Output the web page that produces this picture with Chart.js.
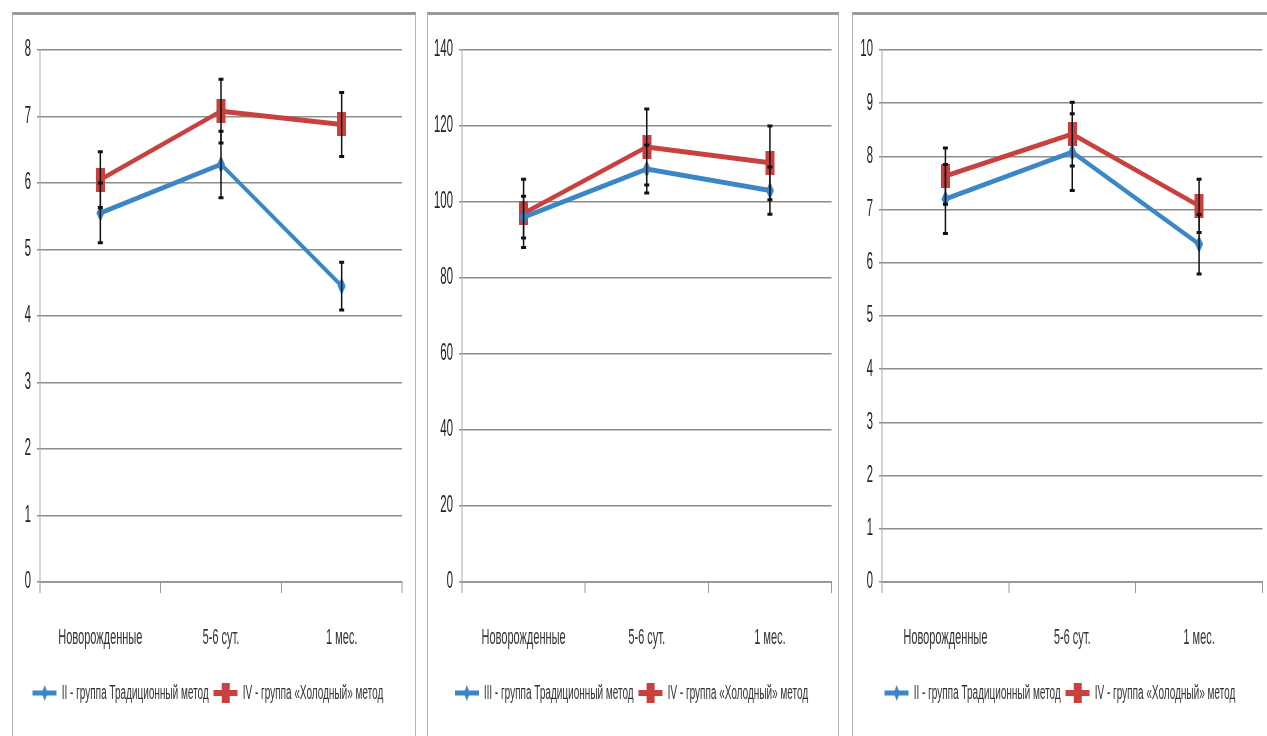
<!DOCTYPE html>
<html>
<head>
<meta charset="utf-8">
<script src="https://cdn.jsdelivr.net/npm/chart.js@4.4.1/dist/chart.umd.min.js"></script>
<style>
  body { margin: 0; background: #fff; width: 1267px; height: 736px; overflow: hidden; position: relative; }
  .frame { position: absolute; top: 12px; height: 740px; box-sizing: border-box;
           border-top: 3px solid #9a9a9a; border-left: 1px solid #b4b4b4; border-right: 1px solid #b4b4b4; }
  canvas { position: absolute; top: 15px; }
</style>
</head>
<body>
<div class="frame" style="left:12px;width:404px"></div>
<div class="frame" style="left:427px;width:412px"></div>
<div class="frame" style="left:852px;width:430px"></div>

<canvas id="chart1" width="798" height="698" style="left:14px;width:399px;height:698px"></canvas>
<canvas id="chart2" width="812" height="698" style="left:430px;width:406px;height:698px"></canvas>
<canvas id="chart3" width="824" height="698" style="left:855px;width:412px;height:698px"></canvas>

<script>
// ---- data ----
const categories = ['Новорожденные', '5-6 сут.', '1 мес.'];

// panel 1
const p1Names = ['II - группа Традиционный метод', 'IV - группа «Холодный» метод'];
const p1Trad = [5.55, 6.28, 4.45];
const p1TradErr = [0.45, 0.5, 0.36];
const p1Cold = [6.05, 7.08, 6.88];
const p1ColdErr = [0.42, 0.48, 0.48];
const p1Ticks = [0, 8, 1];

// panel 2
const p2Names = ['III - группа Традиционный метод', 'IV - группа «Холодный» метод'];
const p2Trad = [96, 108.7, 103];
const p2TradErr = [5.5, 6.3, 6.2];
const p2Cold = [97, 114.5, 110.3];
const p2ColdErr = [9, 10, 9.7];
const p2Ticks = [0, 140, 20];

// panel 3
const p3Names = ['II - группа Традиционный метод', 'IV - группа «Холодный» метод'];
const p3Trad = [7.2, 8.08, 6.35];
const p3TradErr = [0.65, 0.72, 0.56];
const p3Cold = [7.63, 8.42, 7.07];
const p3ColdErr = [0.53, 0.6, 0.5];
const p3Ticks = [0, 10, 1];

// ---- look ----
// canvases are drawn twice as wide and shown squeezed, like the original picture
const BLUE = '#3b86c6';
const RED = '#c9413e';
const FONT = "'Liberation Sans', Arial, sans-serif";

function makeImg(w, h, draw) {
    const c = document.createElement('canvas');
    c.width = w; c.height = h;
    draw(c.getContext('2d'), w, h);
    return c;
}
function diamond(g, cx, cy, w, h) {
    g.beginPath();
    g.moveTo(cx, cy - h / 2); g.lineTo(cx + w / 2, cy);
    g.lineTo(cx, cy + h / 2); g.lineTo(cx - w / 2, cy);
    g.closePath(); g.fill();
}

const blueMark = makeImg(16, 18, (g, w, h) => { g.fillStyle = BLUE; diamond(g, w / 2, h / 2, w, h); });
const redMark = makeImg(18, 24, (g, w, h) => { g.fillStyle = RED; g.fillRect(0, 0, w, h); });
const blueLegend = makeImg(48, 22, (g, w, h) => {
    g.fillStyle = BLUE; g.fillRect(0, h / 2 - 2.5, w, 5); diamond(g, w / 2, h / 2, 12, 16);
});
const redLegend = makeImg(48, 22, (g, w, h) => {
    g.fillStyle = RED; g.fillRect(0, h / 2 - 3, w, 6); g.fillRect(w / 2 - 8, h / 2 - 10, 16, 20);
});

// error bars from the errors array of every dataset
const errorBars = {
    id: 'errorBars',
    afterDatasetsDraw(chart) {
        const ctx = chart.ctx;
        const y = chart.scales.y;
        chart.data.datasets.forEach((ds, i) => {
            chart.getDatasetMeta(i).data.forEach((pt, j) => {
                const top = y.getPixelForValue(ds.data[j] + ds.errors[j]);
                const bot = y.getPixelForValue(ds.data[j] - ds.errors[j]);
                ctx.save();
                ctx.strokeStyle = '#111';
                ctx.lineWidth = 3;
                ctx.beginPath();
                ctx.moveTo(pt.x, top); ctx.lineTo(pt.x, bot);
                ctx.moveTo(pt.x - 5, top); ctx.lineTo(pt.x + 5, top);
                ctx.moveTo(pt.x - 5, bot); ctx.lineTo(pt.x + 5, bot);
                ctx.stroke();
                ctx.restore();
            });
        });
    }
};

function makeChart(id, names, trad, tradErr, cold, coldErr, ticks, axisWidth, padRight) {
    new Chart(document.getElementById(id), {
        type: 'line',
        data: {
            labels: categories,
            datasets: [{
                label: names[0],
                data: trad,
                errors: tradErr,
                borderColor: BLUE,
                backgroundColor: BLUE,
                borderWidth: 5,
                pointStyle: blueMark,
                tension: 0
            }, {
                label: names[1],
                data: cold,
                errors: coldErr,
                borderColor: RED,
                backgroundColor: RED,
                borderWidth: 5,
                pointStyle: redMark,
                tension: 0
            }]
        },
        options: {
            responsive: false,
            devicePixelRatio: 1,
            animation: false,
            layout: { padding: { top: 35, right: padRight, bottom: 0, left: 0 } },
            scales: {
                x: {
                    offset: true,
                    grid: { offset: true, drawOnChartArea: false, tickLength: 11, color: '#999', lineWidth: 2 },
                    border: { color: '#999', width: 2 },
                    ticks: { padding: 32, maxRotation: 0, color: '#333', font: { family: FONT, size: 22 } },
                    afterFit(scale) { scale.height = 91; }
                },
                y: {
                    min: ticks[0],
                    max: ticks[1],
                    grid: { color: '#8c8c8c', lineWidth: 1.5, tickLength: 6 },
                    border: { color: '#aaa', width: 2 },
                    ticks: { stepSize: ticks[2], padding: 12, color: '#222', font: { family: FONT, size: 23 } },
                    afterFit(scale) { scale.width = axisWidth; }
                }
            },
            plugins: {
                legend: {
                    position: 'bottom',
                    labels: {
                        usePointStyle: true,
                        pointStyleWidth: 48,
                        padding: 10,
                        color: '#333',
                        font: { family: FONT, size: 20 },
                        generateLabels(chart) {
                            return chart.data.datasets.map((ds, i) => ({
                                text: ds.label,
                                pointStyle: i === 0 ? blueLegend : redLegend,
                                fillStyle: ds.borderColor,
                                strokeStyle: ds.borderColor,
                                lineWidth: 0,
                                fontColor: '#333',
                                datasetIndex: i
                            }));
                        }
                    }
                },
                tooltip: { enabled: false }
            }
        },
        plugins: [errorBars]
    });
}

makeChart('chart1', p1Names, p1Trad, p1TradErr, p1Cold, p1ColdErr, p1Ticks, 52, 22);
makeChart('chart2', p2Names, p2Trad, p2TradErr, p2Cold, p2ColdErr, p2Ticks, 64, 6);
makeChart('chart3', p3Names, p3Trad, p3TradErr, p3Cold, p3ColdErr, p3Ticks, 54, 4);
</script>
</body>
</html>
